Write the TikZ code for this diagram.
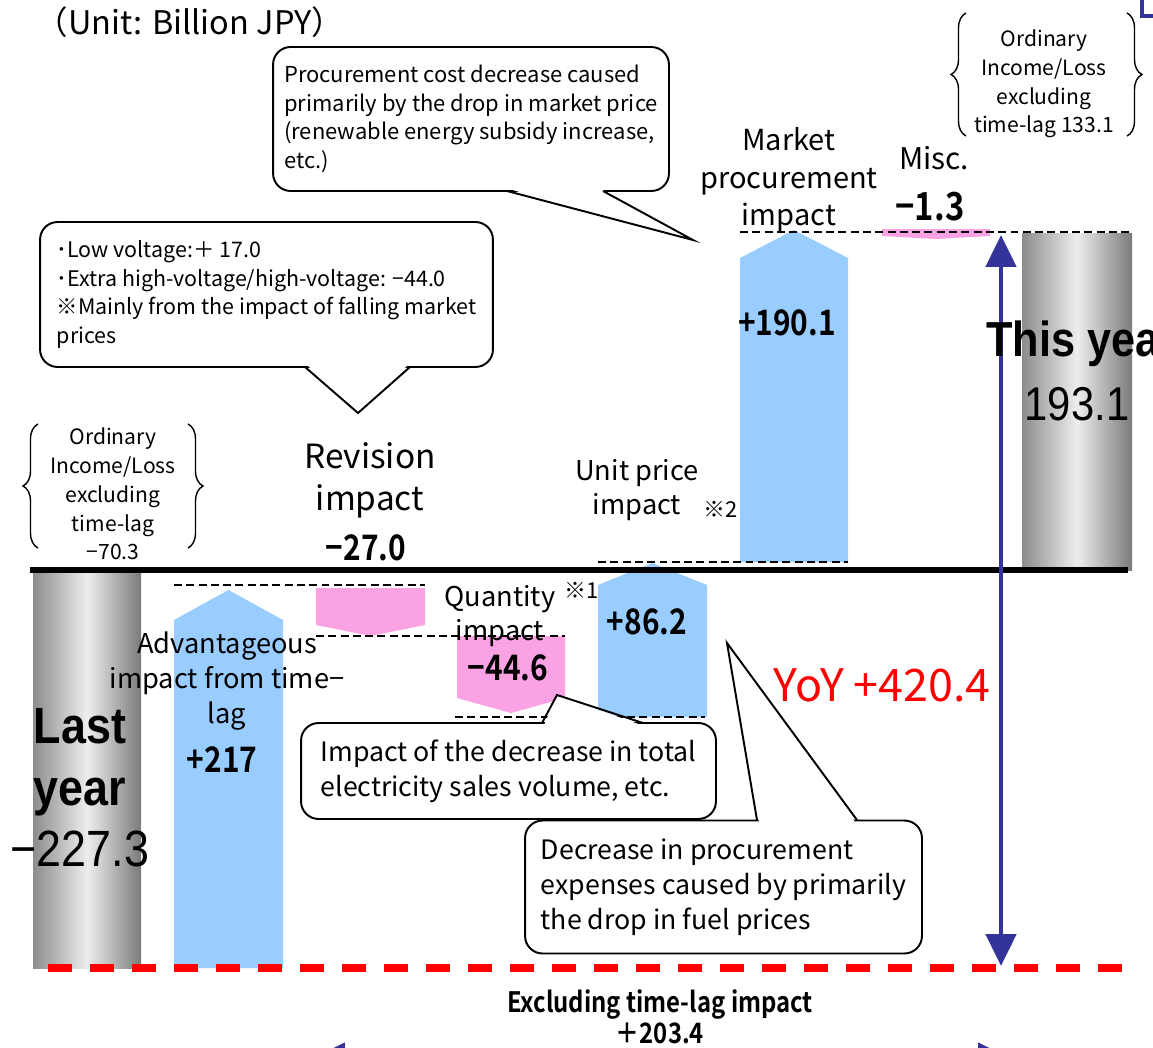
\documentclass[tikz,border=0pt]{standalone}
\usepackage{fontspec}
\setmainfont{Noto Sans CJK JP}[BoldFont={Noto Sans CJK JP Bold}]
\newfontfamily\arialfont{Liberation Sans}[FakeStretch=0.88]
\newfontfamily\narrowbold{Noto Sans CJK JP Bold}[FakeStretch=0.85]
\usetikzlibrary{arrows.meta,decorations.pathreplacing}

\definecolor{upblue}{RGB}{153,204,255}
\definecolor{downpink}{RGB}{250,162,228}
\definecolor{yoynavy}{RGB}{51,51,153}
\definecolor{yoyred}{RGB}{255,0,0}

\begin{document}
\begin{tikzpicture}[x=0.02cm, y=-0.02cm,
    bubble/.style={draw, line width=1.1pt, rounded corners=10pt, fill=white, align=left, inner sep=0pt},
    tail/.style={line width=1.1pt},
    hint/.style={line width=0.8pt, dash pattern=on 4.5pt off 2.5pt},
    bigval/.style={font=\narrowbold\fontsize{20}{24}\selectfont},
    lbl/.style={align=center, font=\fontsize{15.5}{19.8}\selectfont},
    bracetext/.style={align=center, font=\fontsize{12}{16.4}\selectfont},
    curly/.style={decorate, decoration={brace, amplitude=0.3cm}, line width=0.8pt},
    notemark/.style={font=\fontsize{12.5}{14}\selectfont},
    cylinder/.style={left color=black!45, right color=black!52, middle color=black!7}]

\useasboundingbox (0,0) rectangle (1153,1048);
\clip (0,0) rectangle (1153,1048);

\coordinate (lastTL) at (33,573);
\coordinate (lastBR) at (141,968);
\coordinate (thisTL) at (1022,233);
\coordinate (thisBR) at (1132,570);
\shade[cylinder] (lastTL) rectangle (lastBR);
\shade[cylinder] (thisTL) rectangle (thisBR);

\fill[upblue] (174,968) -- (174,620) -- (228.5,590) -- (283,620) -- (283,968) -- cycle;
\fill[downpink] (316,588) -- (425,588) -- (425,625) -- (370.5,636) -- (316,625) -- cycle;
\fill[downpink] (457,636) -- (565,636) -- (565,698) -- (511,713) -- (457,698) -- cycle;
\fill[upblue] (598,717) -- (598,585) -- (652.5,563) -- (707,585) -- (707,717) -- cycle;
\fill[upblue] (740,562) -- (740,258) -- (794,230) -- (848,258) -- (848,562) -- cycle;
\fill[downpink] (882,229) -- (990,229) -- (990,236) -- (936,239) -- (882,236) -- cycle;

\coordinate (s1a) at (174,585);  \coordinate (s1b) at (425,585);
\coordinate (s2a) at (316,636);  \coordinate (s2b) at (565,636);
\coordinate (s3a) at (455,717);  \coordinate (s3b) at (705,717);
\coordinate (s4a) at (598,562);  \coordinate (s4b) at (848,562);
\coordinate (s5a) at (740,232);  \coordinate (s5b) at (1132,232);
\draw[hint] (s1a) -- (s1b);
\draw[hint] (s2a) -- (s2b);
\draw[hint] (s3a) -- (s3b);
\draw[hint] (s4a) -- (s4b);
\draw[hint] (s5a) -- (s5b);

\coordinate (zeroL) at (30,570);
\coordinate (zeroR) at (1128,570);
\draw[line width=3.4pt] (zeroL) -- (zeroR);

\coordinate (exclL) at (48,968);
\coordinate (exclR) at (1122,968);
\draw[yoyred, line width=4pt, dash pattern=on 0.48cm off 0.36cm] (exclL) -- (exclR);

\coordinate (yoyTop) at (1001,235);
\coordinate (yoyBot) at (1001,966);
\draw[yoynavy, line width=2.8pt, {Triangle[width=0.6cm,length=0.64cm]}-{Triangle[width=0.6cm,length=0.64cm]}] (yoyTop) -- (yoyBot);

\coordinate (spanL) at (313,1058);
\coordinate (spanR) at (1010,1058);
\draw[yoynavy, line width=2.8pt, {Triangle[width=0.6cm,length=0.64cm]}-{Triangle[width=0.6cm,length=0.64cm]}] (spanL) -- (spanR);
\draw[yoynavy, line width=2pt] (1142,0) -- (1142,16) -- (1153,16);

\node[font=\fontsize{18.5}{22}\selectfont] (unit) at (190,22) {（Unit: Billion JPY）};

\node[align=center, font=\arialfont\fontsize{29}{35}\selectfont] (lastyr) at (80,788) {\textbf{Last}\\\textbf{year}\\−227.3};
\node[anchor=west, font=\arialfont\bfseries\fontsize{28}{34}\selectfont] (thisyr) at (980,344) {This year};
\node[font=\arialfont\fontsize{27}{30}\selectfont] (thisval) at (1077,404) {193.1};

\node[lbl] (advlbl) at (227,681) {Advantageous\\impact from time−\\lag};
\node[bigval] (advval) at (222,760) {+217};
\node[align=center, font=\fontsize{19}{23.8}\selectfont] (revlbl) at (370,480) {Revision\\impact};
\node[bigval] (revval) at (366,548) {−27.0};
\node[lbl] (qtylbl) at (500,616) {Quantity\\impact};
\node[notemark] (qtymark) at (582,590) {※1};
\node[bigval] (qtyval) at (508,668) {−44.6};
\node[lbl] (unitlbl) at (637,490) {Unit price\\impact};
\node[notemark] (unitmark) at (721,509) {※2};
\node[bigval] (unitval) at (647,622) {+86.2};
\node[align=center, font=\fontsize{16.5}{21.5}\selectfont] (mktlbl) at (789,180) {Market\\procurement\\impact};
\node[bigval] (mktval) at (787,323) {+190.1};
\node[font=\fontsize{17}{20}\selectfont] (misclbl) at (934,158) {Misc.};
\node[bigval, font=\narrowbold\fontsize{22}{24}\selectfont] (miscval) at (930,207) {−1.3};

\node[font=\fontsize{25.5}{28}\selectfont, text=yoyred] (yoy) at (882,685) {YoY +420.4};
\node[align=center, font=\narrowbold\fontsize{16}{17.6}\selectfont] (excl) at (660,1017) {Excluding time-lag impact\\＋203.4};

\node[bracetext] (lastexcl) at (113,494) {Ordinary\\Income/Loss\\excluding\\time-lag\\−70.3};
\draw[curly] (38,548) -- (38,424);
\draw[curly] (188,424) -- (188,548);
\node[bracetext] (thisexcl) at (1044,84) {Ordinary\\Income/Loss\\excluding\\time-lag 133.1};
\draw[curly] (966,136) -- (966,13);
\draw[curly] (1127,13) -- (1127,136);

\node[bubble, minimum width=7.92cm, minimum height=2.88cm, font=\fontsize{12.5}{16.4}\selectfont] (procnote) at (471,119) {Procurement cost decrease caused\\primarily by the drop in market price\\(renewable energy subsidy increase,\\etc.)};
\coordinate (procTip) at (693,240);
\fill[white] (509,189) -- (procTip) -- (601,189) -- cycle;
\draw[tail] (507,191) -- (procTip) -- (603,191);

\node[bubble, minimum width=9.06cm, minimum height=2.9cm, font=\fontsize{12.2}{16.4}\selectfont] (voltnote) at (266.5,294.5) {･Low voltage:＋ 17.0\\･Extra high-voltage/high-voltage: −44.0\\※Mainly from the impact of falling market\\prices};
\coordinate (voltTip) at (358,413);
\fill[white] (307,365) -- (voltTip) -- (408,365) -- cycle;
\draw[tail] (305,367) -- (voltTip) -- (410,367);

\node[bubble, minimum width=8.3cm, minimum height=1.92cm, font=\fontsize{15.2}{19.8}\selectfont] (qtynote) at (508.5,771) {Impact of the decrease in total\\electricity sales volume, etc.};
\coordinate (qtyTip) at (557,695);
\fill[white] (544,725) -- (qtyTip) -- (641,725) -- cycle;
\draw[tail] (542,723) -- (qtyTip) -- (643,723);

\node[bubble, minimum width=7.94cm, minimum height=2.66cm, font=\fontsize{15.2}{19.8}\selectfont] (fuelnote) at (723.5,887) {Decrease in procurement\\expenses caused by primarily\\the drop in fuel prices};
\coordinate (fuelTip) at (727,643);
\fill[white] (759,822) -- (fuelTip) -- (855,822) -- cycle;
\draw[tail] (757,820) -- (fuelTip) -- (857,820);
\end{tikzpicture}
\end{document}
